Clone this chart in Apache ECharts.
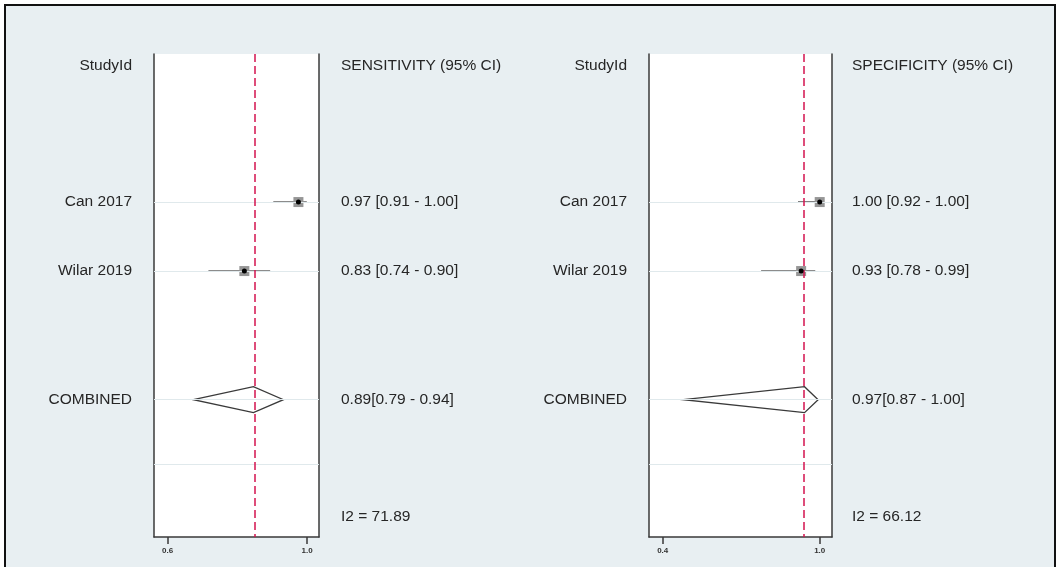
<!DOCTYPE html>
<html>
<head>
<meta charset="utf-8">
<script src="https://cdn.jsdelivr.net/npm/echarts@6/dist/echarts.min.js"></script>
<style>
html,body{margin:0;padding:0;background:#fff;}
#chart{width:1058px;height:567px;}
</style>
</head>
<body>
<div id="chart"></div>
<script>
// ---------- DATA ----------
const studies = ['Can 2017', 'Wilar 2019'];
const pooledName = 'COMBINED';
const headerName = 'StudyId';

const sensHeader = 'SENSITIVITY (95% CI)';
const sensText = ['0.97 [0.91 - 1.00]', '0.83 [0.74 - 0.90]'];
const sensPoint = [0.975, 0.82];
const sensLo = [0.903, 0.717];
const sensHi = [0.999, 0.894];
const sensPooled = [0.674, 0.846, 0.932]; // low, estimate, high (as drawn)
const sensPooledText = '0.89[0.79 - 0.94]';
const sensI2 = 'I2 = 71.89';
const sensTicks = [0.6, 1.0];
const sensTickLabels = ['0.6', '1.0'];

const specHeader = 'SPECIFICITY (95% CI)';
const specText = ['1.00 [0.92 - 1.00]', '0.93 [0.78 - 0.99]'];
const specPoint = [1.0, 0.929];
const specLo = [0.917, 0.776];
const specHi = [1.0, 0.983];
const specPooled = [0.479, 0.942, 0.994];
const specPooledText = '0.97[0.87 - 1.00]';
const specI2 = 'I2 = 66.12';
const specTicks = [0.4, 1.0];
const specTickLabels = ['0.4', '1.0'];

// ---------- LAYOUT ----------
const ROW = { header: 0.18, studies: [2.21, 3.24], pooled: 5.16, sep: 6.12, i2: 6.9, max: 7.21 };
const X_RANGE = [[0.561, 1.034], [0.3475, 1.047]];
const GRIDS = [{ left: 154, width: 165 }, { left: 649, width: 183 }];
const TEXT_COLOR = '#262626';
const FONT = '"Liberation Sans", Arial, sans-serif';
const FS = 15.5;

const chart = echarts.init(document.getElementById('chart'), null, { renderer: 'canvas' });

function panel(idx, pt, lo, hi, pooled, rowTexts, pooledText, header, i2, ticks, tickLabels) {
  const leftLabels = {};
  leftLabels[ROW.header] = headerName;
  ROW.studies.forEach((r, i) => leftLabels[r] = studies[i]);
  leftLabels[ROW.pooled] = pooledName;
  const rightLabels = {};
  rightLabels[ROW.header] = header;
  ROW.studies.forEach((r, i) => rightLabels[r] = rowTexts[i]);
  rightLabels[ROW.pooled] = pooledText;
  rightLabels[ROW.i2] = i2;

  const grid = { left: GRIDS[idx].left, width: GRIDS[idx].width, top: 54, height: 483, show: true,
    backgroundColor: '#ffffff', borderWidth: 0, containLabel: false };
  const xAxis = {
    type: 'value', gridIndex: idx, min: X_RANGE[idx][0], max: X_RANGE[idx][1],
    splitLine: { show: false },
    axisLine: { show: true, onZero: false, lineStyle: { color: '#3a3a3a', width: 1.5 } },
    axisTick: { show: true, customValues: ticks, length: 7, lineStyle: { color: '#3a3a3a', width: 1.5 } },
    axisLabel: { show: true, customValues: ticks, margin: 10, fontSize: 8, fontWeight: 'bold',
      color: '#333', fontFamily: FONT,
      formatter: v => { const k = ticks.findIndex(t => Math.abs(t - v) < 1e-9); return k >= 0 ? tickLabels[k] : ''; } }
  };
  const yLeft = {
    type: 'value', gridIndex: idx, inverse: true, min: 0, max: ROW.max, position: 'left',
    splitLine: { show: false },
    axisLine: { show: true, onZero: false, lineStyle: { color: '#3a3a3a', width: 1.5 } },
    axisTick: { show: false },
    axisLabel: { show: true, customValues: Object.keys(leftLabels).map(Number), margin: 22,
      fontSize: FS, color: TEXT_COLOR, fontFamily: FONT, align: 'right',
      formatter: v => leftLabels[v] || '' }
  };
  const yRight = {
    type: 'value', gridIndex: idx, inverse: true, min: 0, max: ROW.max, position: 'right',
    splitLine: { show: false },
    axisLine: { show: true, onZero: false, lineStyle: { color: '#3a3a3a', width: 1.5 } },
    axisTick: { show: false },
    axisLabel: { show: true, customValues: Object.keys(rightLabels).map(Number), margin: idx === 0 ? 22 : 20,
      fontSize: FS, color: TEXT_COLOR, fontFamily: FONT, align: 'left',
      formatter: v => rightLabels[v] || '' }
  };

  const yL = idx * 2;
  const series = [
    { // faint row lines + reference line
      type: 'line', xAxisIndex: idx, yAxisIndex: yL, data: [], silent: true, z: 1,
      markLine: {
        silent: true, symbol: 'none', label: { show: false }, animation: false,
        data: [
          ...ROW.studies.map(r => ({ yAxis: r, lineStyle: { color: '#e0e9ec', width: 1, type: 'solid' } })),
          { yAxis: ROW.pooled, lineStyle: { color: '#e0e9ec', width: 1, type: 'solid' } },
          { yAxis: ROW.sep, lineStyle: { color: '#e0e9ec', width: 1, type: 'solid' } },
          { xAxis: pooled[1], lineStyle: { color: '#d3134f', width: 1.5, type: [8, 4] } }
        ]
      }
    },
    { // CI lines
      type: 'custom', xAxisIndex: idx, yAxisIndex: yL, z: 3, silent: true,
      data: studies.map((s, i) => [lo[i], hi[i], ROW.studies[i]]),
      renderItem: (params, api) => {
        const a = api.coord([api.value(0), api.value(2)]);
        const b = api.coord([api.value(1), api.value(2)]);
        return { type: 'line', shape: { x1: a[0], y1: a[1], x2: b[0], y2: b[1] },
          style: { stroke: '#1a1a1a', lineWidth: 1.2 } };
      }
    },
    { // gray squares
      type: 'scatter', xAxisIndex: idx, yAxisIndex: yL, z: 4, silent: true,
      symbol: 'rect', symbolSize: 10,
      itemStyle: { color: '#969696', opacity: 1 },
      data: studies.map((s, i) => [pt[i], ROW.studies[i]])
    },
    { // black dots
      type: 'scatter', xAxisIndex: idx, yAxisIndex: yL, z: 5, silent: true,
      symbol: 'circle', symbolSize: 5,
      itemStyle: { color: '#000', opacity: 1 },
      data: studies.map((s, i) => [pt[i], ROW.studies[i]])
    },
    { // pooled diamond
      type: 'custom', xAxisIndex: idx, yAxisIndex: yL, z: 3, silent: true,
      data: [[pooled[0], pooled[1], pooled[2], ROW.pooled]],
      renderItem: (params, api) => {
        const y = api.value(3);
        const l = api.coord([api.value(0), y]);
        const c = api.coord([api.value(1), y]);
        const r = api.coord([api.value(2), y]);
        const h = 13;
        return { type: 'polygon',
          shape: { points: [[l[0], l[1]], [c[0], c[1] - h], [r[0], r[1]], [c[0], c[1] + h]] },
          style: { fill: 'rgba(255,255,255,0)', stroke: '#3a3a3a', lineWidth: 1.3 } };
      }
    }
  ];
  return { grid, xAxis, yAxes: [yLeft, yRight], series };
}

const p0 = panel(0, sensPoint, sensLo, sensHi, sensPooled, sensText, sensPooledText, sensHeader, sensI2, sensTicks, sensTickLabels);
const p1 = panel(1, specPoint, specLo, specHi, specPooled, specText, specPooledText, specHeader, specI2, specTicks, specTickLabels);

chart.setOption({
  animation: false,
  backgroundColor: '#ffffff',
  graphic: [{
    type: 'rect', z: -10, silent: true,
    shape: { x: 5, y: 5, width: 1050, height: 570 },
    style: { fill: '#e8eff2', stroke: '#111', lineWidth: 2 }
  }],
  grid: [p0.grid, p1.grid],
  xAxis: [p0.xAxis, p1.xAxis],
  yAxis: [...p0.yAxes, ...p1.yAxes],
  series: [...p0.series, ...p1.series]
});
</script>
</body>
</html>
